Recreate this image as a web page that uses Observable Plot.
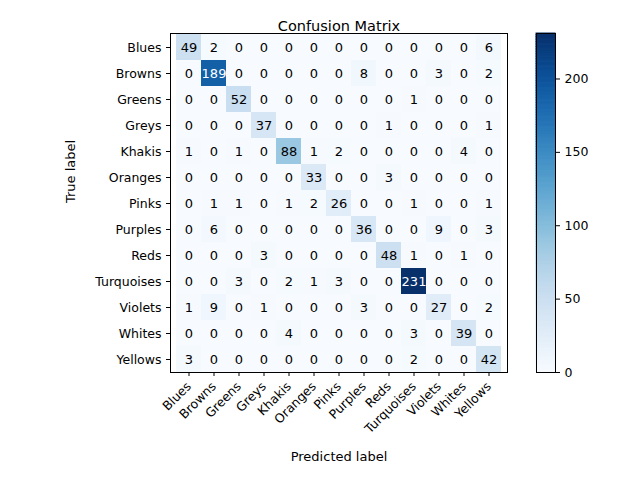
<!DOCTYPE html>
<html>
<head>
<meta charset="utf-8">
<script src="https://cdn.jsdelivr.net/npm/d3@7"></script>
<script src="https://cdn.jsdelivr.net/npm/@observablehq/plot@0.6"></script>
<style>
  body { margin: 0; background: white; }
  #chart { position: relative; width: 640px; height: 480px; }
  #chart svg { position: absolute; left: 0; top: 0; }
</style>
</head>
<body>
<div id="chart"></div>
<script>
const labels = ["Blues","Browns","Greens","Greys","Khakis","Oranges","Pinks","Purples","Reds","Turquoises","Violets","Whites","Yellows"]
const matrix = [
  [49,2,0,0,0,0,0,0,0,0,0,0,6],
  [0,189,0,0,0,0,0,8,0,0,3,0,2],
  [0,0,52,0,0,0,0,0,0,1,0,0,0],
  [0,0,0,37,0,0,0,0,1,0,0,0,1],
  [1,0,1,0,88,1,2,0,0,0,0,4,0],
  [0,0,0,0,0,33,0,0,3,0,0,0,0],
  [0,1,1,0,1,2,26,0,0,1,0,0,1],
  [0,6,0,0,0,0,0,36,0,0,9,0,3],
  [0,0,0,3,0,0,0,0,48,1,0,1,0],
  [0,0,3,0,2,1,3,0,0,231,0,0,0],
  [1,9,0,1,0,0,0,3,0,0,27,0,2],
  [0,0,0,0,4,0,0,0,0,3,0,39,0],
  [3,0,0,0,0,0,0,0,0,2,0,0,42]
]
const barTicks = [0, 50, 100, 150, 200]

const cells = []
matrix.forEach((row, i) => row.forEach((v, j) => cells.push({truth: labels[i], pred: labels[j], v})))
const vmax = d3.max(cells, d => d.v)
const font = "DejaVu Sans"

const main = Plot.plot({
  width: 640, height: 480,
  marginLeft: 170, marginRight: 133, marginTop: 33, marginBottom: 108,
  style: {fontFamily: font, fontSize: 12.5, color: "black", background: "transparent"},
  x: {domain: labels, padding: 0, tickRotate: -45, label: null, tickSize: 4},
  y: {domain: labels, padding: 0, label: null, tickSize: 4},
  color: {type: "linear", scheme: "blues", domain: [0, vmax]},
  marks: [
    Plot.cell(cells, {x: "pred", y: "truth", fill: "v"}),
    Plot.text(cells, {x: "pred", y: "truth", text: "v", fontSize: 13,
      fill: d => d.v > vmax / 2 ? "white" : "black"}),
    Plot.frame({stroke: "black"}),
    Plot.text(["Confusion Matrix"], {frameAnchor: "top", dy: -13, fontSize: 14.5}),
    Plot.text(["Predicted label"], {frameAnchor: "bottom", dy: 88, fontSize: 13}),
    Plot.text(["True label"], {frameAnchor: "left", dx: -100, rotate: -90, fontSize: 13})
  ]
})

const steps = d3.range(0, vmax, vmax / 200).map(s => ({y1: s, y2: s + vmax / 200}))
const bar = Plot.plot({
  width: 640, height: 480,
  marginLeft: 536, marginRight: 85, marginTop: 33, marginBottom: 108,
  style: {fontFamily: font, fontSize: 12.5, color: "black", background: "transparent"},
  x: {axis: null, domain: [0, 1]},
  y: {domain: [0, vmax], axis: "right", ticks: barTicks, label: null, tickSize: 4},
  color: {type: "linear", scheme: "blues", domain: [0, vmax]},
  marks: [
    Plot.rect(steps, {x1: 0, x2: 1, y1: "y1", y2: "y2", inset: 0,
      fill: d => (d.y1 + d.y2) / 2, stroke: d => (d.y1 + d.y2) / 2, strokeWidth: 1}),
    Plot.frame({stroke: "black"})
  ]
})

d3.select('#chart').append(() => main)
d3.select('#chart').append(() => bar)
</script>
</body>
</html>
